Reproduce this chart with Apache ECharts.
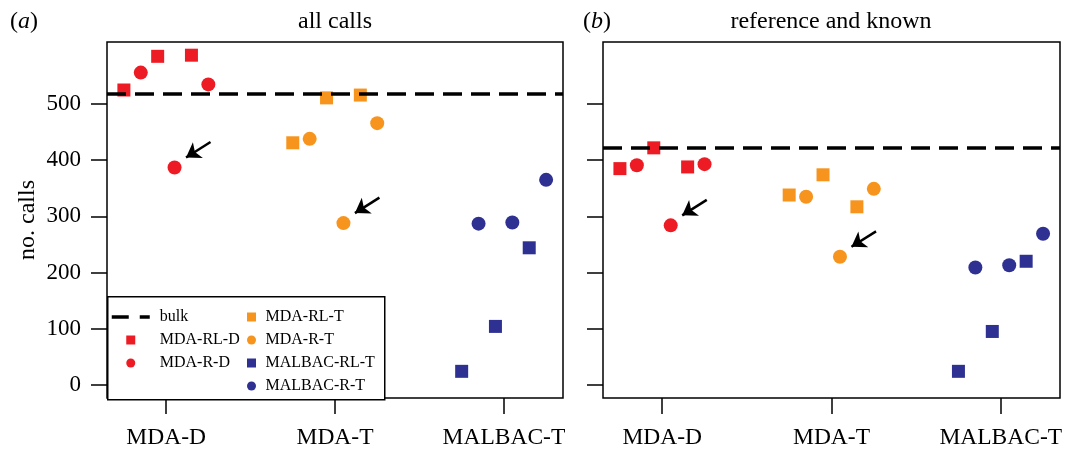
<!DOCTYPE html>
<html>
<head>
<meta charset="utf-8">
<script src="https://cdn.jsdelivr.net/npm/echarts@6/dist/echarts.min.js"></script>
<style>
html, body { margin: 0; padding: 0; background: #fff; }
#main { width: 1067px; height: 450px; }
</style>
</head>
<body>
<div id="main"></div>
<script>
// ---- data (panel a = all calls, panel b = reference and known) ----
const categories = ['MDA-D', 'MDA-T', 'MALBAC-T'];
const yTicks = [0, 100, 200, 300, 400, 500];
const panelTitles = ['all calls', 'reference and known'];
const panelTags = ['a', 'b'];

// three replicates per library type, [panel a, panel b]
const mdaRLD = [[525, 585, 587], [385, 422, 388]];
const mdaRD = [[556, 387, 535], [391, 284, 393]];
const mdaRLT = [[431, 511, 516], [338, 374, 317]];
const mdaRT = [[438, 288, 466], [335, 228, 349]];
const malbacRLT = [[24, 104, 244], [24, 95, 220]];
const malbacRT = [[287, 289, 365], [209, 213, 269]];
const bulk = [519, 422];

const sampleTypes = [
    { name: 'MDA-RL-D', group: 0, kind: 'RL', values: mdaRLD },
    { name: 'MDA-R-D', group: 0, kind: 'R', values: mdaRD },
    { name: 'MDA-RL-T', group: 1, kind: 'RL', values: mdaRLT },
    { name: 'MDA-R-T', group: 1, kind: 'R', values: mdaRT },
    { name: 'MALBAC-RL-T', group: 2, kind: 'RL', values: malbacRLT },
    { name: 'MALBAC-R-T', group: 2, kind: 'R', values: malbacRT },
];
// replicate that gets an arrow
const arrowed = { 'MDA-R-D': 1, 'MDA-R-T': 1 };

// ---- layout / style ----
const font = "'Liberation Serif', 'DejaVu Serif', serif";
const groupColors = ['#ED1C24', '#F7941D', '#2E3192'];
const rlOffsets = [-0.25, -0.05, 0.15];
const rOffsets = [-0.15, 0.05, 0.25];
const grids = [
    { left: 107, top: 42, width: 456, height: 357 },
    { left: 603, top: 42, width: 457, height: 357 },
];
const titleCenters = [335, 831];
const tagLefts = [10, 583];
const squareIcon = 'path://M0 0H10V10H0Z';

const chart = echarts.init(document.getElementById('main'));

const series = [];
const xAxes = [];
const yAxes = [];
const titles = [];

for (let p = 0; p < 2; p++) {
    series.push({
        name: 'bulk',
        type: 'line',
        xAxisIndex: p,
        yAxisIndex: p,
        data: [],
        symbol: 'none',
        color: '#000',
        lineStyle: { color: '#000', width: 3.5, type: [19, 9] },
        markLine: {
            silent: true,
            animation: false,
            symbol: 'none',
            label: { show: false },
            lineStyle: { color: '#000', width: 3.5, type: [19, 9] },
            data: [{ yAxis: bulk[p] }],
        },
    });
    sampleTypes.forEach((st) => {
        const offs = st.kind === 'RL' ? rlOffsets : rOffsets;
        const data = st.values[p].map((v, i) => [st.group + 1 + offs[i], v]);
        const s = {
            name: st.name,
            type: 'scatter',
            xAxisIndex: p,
            yAxisIndex: p,
            symbol: st.kind === 'RL' ? 'rect' : 'circle',
            symbolSize: st.kind === 'RL' ? 13 : 14,
            itemStyle: { color: groupColors[st.group], opacity: 1 },
            emphasis: { disabled: true },
            data: data,
        };
        if (arrowed[st.name] !== undefined) {
            const pt = data[arrowed[st.name]];
            s.markLine = {
                silent: true,
                animation: false,
                symbol: ['none', 'arrow'],
                symbolSize: 14,
                label: { show: false },
                lineStyle: { color: '#000', width: 2.5, type: 'solid' },
                data: [[
                    { coord: [pt[0] + 0.213, pt[1] + 45.3] },
                    { coord: [pt[0] + 0.068, pt[1] + 17.8] },
                ]],
            };
        }
        series.push(s);
    });

    xAxes.push({
        type: 'value',
        gridIndex: p,
        min: 0.65,
        max: 3.35,
        splitLine: { show: false },
        axisLine: { show: false, onZero: false },
        axisTick: { show: true, length: 16, customValues: [1, 2, 3], lineStyle: { color: '#000', width: 1.5 } },
        axisLabel: {
            customValues: [1, 2, 3],
            formatter: (v) => categories[Math.round(v) - 1],
            color: '#000', fontSize: 23.5, fontFamily: font, margin: 28,
        },
    });
    yAxes.push({
        type: 'value',
        gridIndex: p,
        min: -23.5,
        max: 610.5,
        splitLine: { show: false },
        axisLine: { show: false, onZero: false },
        axisTick: { show: true, length: 16, customValues: yTicks, lineStyle: { color: '#000', width: 1.5 } },
        axisLabel: {
            show: p === 0,
            customValues: yTicks,
            color: '#000', fontSize: 23, fontFamily: font, margin: 26,
        },
        name: p === 0 ? 'no. calls' : '',
        nameLocation: 'middle',
        nameGap: 67,
        nameTextStyle: { color: '#000', fontSize: 24, fontFamily: font },
    });

    titles.push({
        text: '({it|' + panelTags[p] + '})',
        left: tagLefts[p],
        top: 10,
        padding: 0,
        textStyle: {
            color: '#000', fontSize: 24, fontWeight: 'normal', fontFamily: font,
            rich: { it: { fontStyle: 'italic', fontSize: 24, fontFamily: font, color: '#000' } },
        },
    });
    titles.push({
        text: panelTitles[p],
        left: titleCenters[p],
        top: 10,
        padding: 0,
        textAlign: 'center',
        textStyle: { color: '#000', fontSize: 24, fontWeight: 'normal', fontFamily: font },
    });
}

const legendText = { color: '#000', fontSize: 16, fontFamily: font, lineHeight: 16 };

const option = {
    animation: false,
    backgroundColor: '#fff',
    title: titles,
    grid: grids.map((g) => Object.assign({ show: true, borderColor: '#000', borderWidth: 1.5, backgroundColor: 'transparent' }, g)),
    xAxis: xAxes,
    yAxis: yAxes,
    legend: [
        {
            data: [
                { name: 'bulk', itemStyle: { opacity: 0 } },
                { name: 'MDA-RL-D', icon: squareIcon },
                { name: 'MDA-R-D', icon: 'circle' },
            ],
            orient: 'vertical',
            left: 110,
            top: 309,
            padding: 0,
            itemGap: 7,
            itemWidth: 38,
            itemHeight: 9,
            symbolKeepAspect: true,
            selectedMode: false,
            lineStyle: { width: 3.5, type: [17, 11] },
            textStyle: Object.assign({ padding: [0, 0, 0, 5] }, legendText),
        },
        {
            data: [
                { name: 'MDA-RL-T', icon: squareIcon },
                { name: 'MDA-R-T', icon: 'circle' },
                { name: 'MALBAC-RL-T', icon: squareIcon },
                { name: 'MALBAC-R-T', icon: 'circle' },
            ],
            orient: 'vertical',
            left: 247,
            top: 309,
            padding: 0,
            itemGap: 7,
            itemWidth: 10,
            itemHeight: 9,
            symbolKeepAspect: true,
            selectedMode: false,
            textStyle: Object.assign({ padding: [0, 0, 0, 4] }, legendText),
        },
    ],
    graphic: [{
        type: 'rect',
        left: 107,
        top: 296,
        z: 3,
        shape: { width: 277, height: 103 },
        style: { fill: '#fff', stroke: '#000', lineWidth: 1.5 },
    }],
    series: series,
};

chart.setOption(option);
</script>
</body>
</html>
